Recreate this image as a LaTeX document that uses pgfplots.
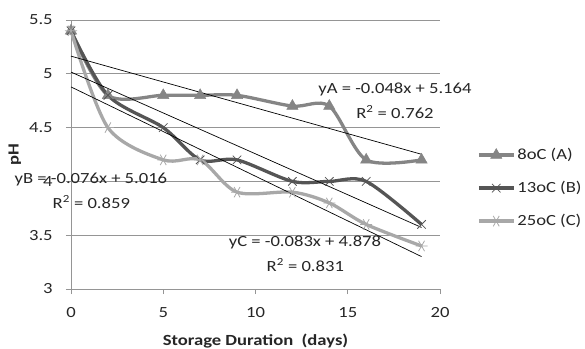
\documentclass[border=0pt]{standalone}
\usepackage{fontspec}
\setmainfont[FakeStretch=1.2]{Carlito}
\usepackage{pgfplots}
\pgfplotsset{compat=1.18}
\definecolor{cA}{HTML}{858585}
\definecolor{cB}{HTML}{555555}
\definecolor{cC}{HTML}{A8A8A8}
\definecolor{gridc}{HTML}{959595}
\begin{document}
\fontsize{15.5bp}{18bp}\selectfont
\begin{tikzpicture}
\path[use as bounding box] (0,0) rectangle (585bp,349bp);
\begin{axis}[
  at={(71bp,60bp)}, anchor=south west, scale only axis,
  width=369bp, height=269bp,
  xmin=0, xmax=20, ymin=3, ymax=5.5,
  xtick={0,5,10,15,20}, ytick={3,3.5,4,4.5,5,5.5},
  axis x line=bottom, axis y line=left,
  axis line style={gridc, line width=0.8pt, -},
  ymajorgrids, grid style={gridc, line width=0.8pt},
  tick align=outside, major tick length=5bp,
  tick style={gridc, line width=0.8pt},
  /pgf/number format/assume math mode=true,
  ticklabel style={font=\fontsize{15.5bp}{18bp}\selectfont, text=black!85},
  xticklabel style={yshift=-8bp},
  yticklabel style={xshift=-8bp},
  xlabel={\bfseries Storage Duration\ \ (days)},
  ylabel={\bfseries pH},
  xlabel style={at={(axis description cs:0.5,-0.195)}, anchor=center},
  ylabel style={at={(axis description cs:-0.152,0.5)}, anchor=center, rotate=0},
  label style={font=\fontsize{15.5bp}{18bp}\selectfont, text=black!85},
  clip=false,
  legend style={at={(1.10,0.375)}, anchor=west, draw=none, fill=none,
    font=\fontsize{15.5bp}{18bp}\selectfont, text=black!85,
    row sep=15bp, inner sep=0pt,
    nodes={inner sep=2bp, text height=11bp, text depth=3bp}},
  legend cell align=left,
  legend image code/.code={\draw[mark repeat=2, mark phase=2, #1] plot coordinates {(0bp,0bp) (17.5bp,0bp) (35bp,0bp)};},
]
\addplot[cA, line width=3.3pt, smooth, tension=0.5, mark=triangle*, mark size=6.5bp, mark options={solid, line width=0.5pt}]
  coordinates {(0,5.4) (2,4.8) (5,4.8) (7,4.8) (9,4.8) (12,4.7) (14,4.7) (16,4.2) (19,4.2)};
\addplot[cB, line width=3.3pt, smooth, tension=0.5, mark=x, mark size=6bp, mark options={solid, line width=0.8pt}]
  coordinates {(0,5.4) (2,4.8) (5,4.5) (7,4.2) (9,4.2) (12,4.0) (14,4.0) (16,4.0) (19,3.6)};
\addplot[cC, line width=3.3pt, smooth, tension=0.5, mark=asterisk, mark size=6bp, mark options={solid, line width=0.8pt, rotate=90}]
  coordinates {(0,5.4) (2,4.5) (5,4.2) (7,4.2) (9,3.9) (12,3.9) (14,3.8) (16,3.6) (19,3.4)};
\legend{8oC (A), 13oC (B), 25oC (C)}
\addplot[black, line width=0.7pt, forget plot] coordinates {(0,5.164) (19,4.252)};
\addplot[black, line width=0.7pt, forget plot] coordinates {(0,5.016) (19,3.572)};
\addplot[black, line width=0.7pt, forget plot] coordinates {(0,4.878) (19,3.301)};
\node[text=black!85] at (axis cs:17.56,4.859) {yA = -0.048x + 5.164};
\node[text=black!85] at (axis cs:17.56,4.645) {R\textsuperscript{2} = 0.762};
\node[text=black!85] at (axis cs:1.08,4.013) {yB = -0.076x + 5.016};
\node[text=black!85] at (axis cs:1.10,3.809) {R\textsuperscript{2} = 0.859};
\node[text=black!85] at (axis cs:12.68,3.428) {yC = -0.083x + 4.878};
\node[text=black!85] at (axis cs:12.70,3.223) {R\textsuperscript{2} = 0.831};
\end{axis}
\end{tikzpicture}
\end{document}
